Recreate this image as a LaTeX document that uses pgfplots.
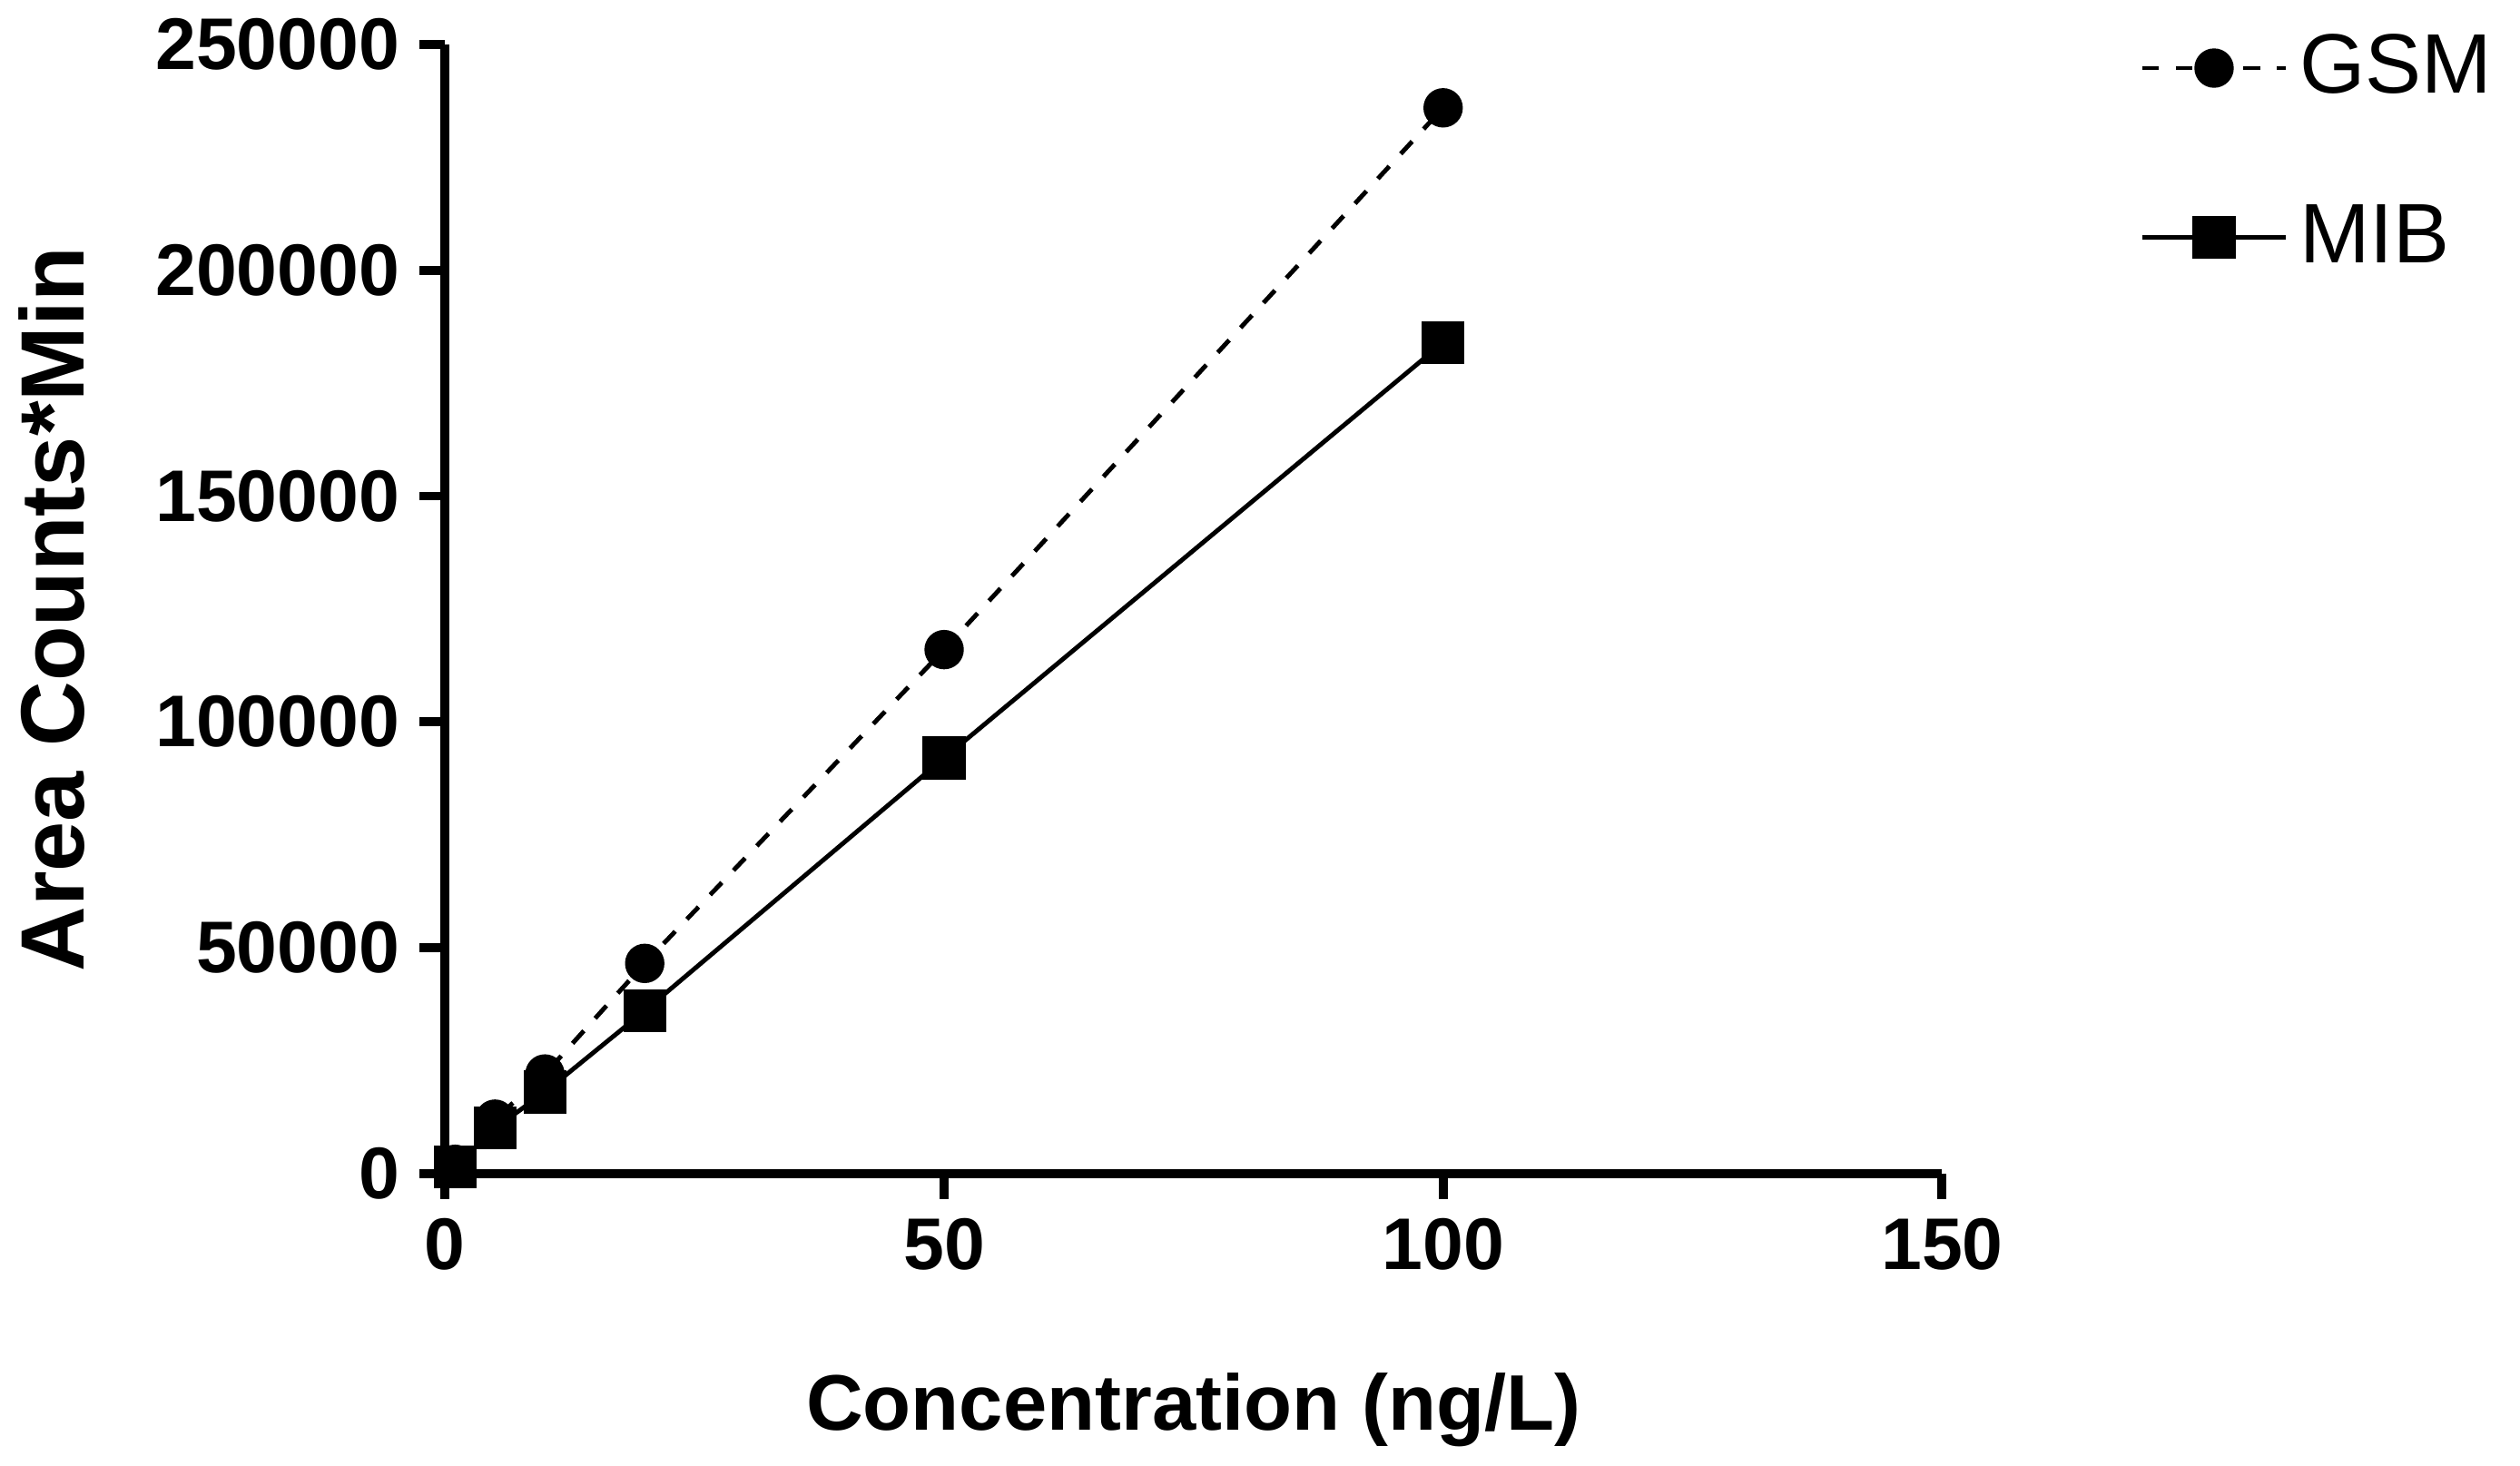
\documentclass[border=0pt]{standalone}
\usepackage{pgfplots}
\pgfplotsset{compat=1.18}
\usepackage{fontspec}
\setmainfont{Liberation Sans}
\begin{document}
\begin{tikzpicture}
\begin{axis}[
  scale only axis, width=93.5mm, height=70.5mm,
  xmin=0, xmax=150, ymin=0, ymax=250000,
  axis x line=bottom, axis y line=left,
  axis line style={line width=1.6pt,-},
  every tick/.style={line width=1.6pt,black},
  tick align=outside, major tick length=1.6mm,
  xtick={0,50,100,150}, ytick={0,50000,100000,150000,200000,250000},
  scaled y ticks=false,
  /pgf/number format/assume math mode=true,
  yticklabel style={/pgf/number format/fixed,/pgf/number format/1000 sep={}},
  tick label style={font=\fontsize{13}{13}\selectfont\bfseries},
  xlabel={Concentration (ng/L)}, ylabel={Area Counts*Min},
  xlabel style={font=\fontsize{14}{15}\selectfont\bfseries, yshift=-4mm},
  ylabel style={font=\fontsize{16}{17}\selectfont\bfseries, yshift=2mm},
  legend style={draw=none, at={(1.12,1.03)}, anchor=north west,
    font=\fontsize{15}{16}\selectfont, row sep=5mm},
  legend cell align=left,
  legend image code/.code={\draw[#1] (0mm,0mm) -- (9mm,0mm); \draw[#1,solid] plot coordinates {(4.5mm,0mm)};},
]
\addplot[black, thick, dashed, mark=*, mark size=3.1pt, mark options={solid}] coordinates {
(1,2000) (5,12000) (10,22000) (20,46500) (50,116000) (100,236000)};
\addlegendentry{GSM}
\addplot[black, thick, mark=square*, mark size=3.4pt] coordinates {
(1,1500) (5,10000) (10,18000) (20,36000) (50,92000) (100,184000)};
\addlegendentry{MIB}
\end{axis}
\end{tikzpicture}
\end{document}
